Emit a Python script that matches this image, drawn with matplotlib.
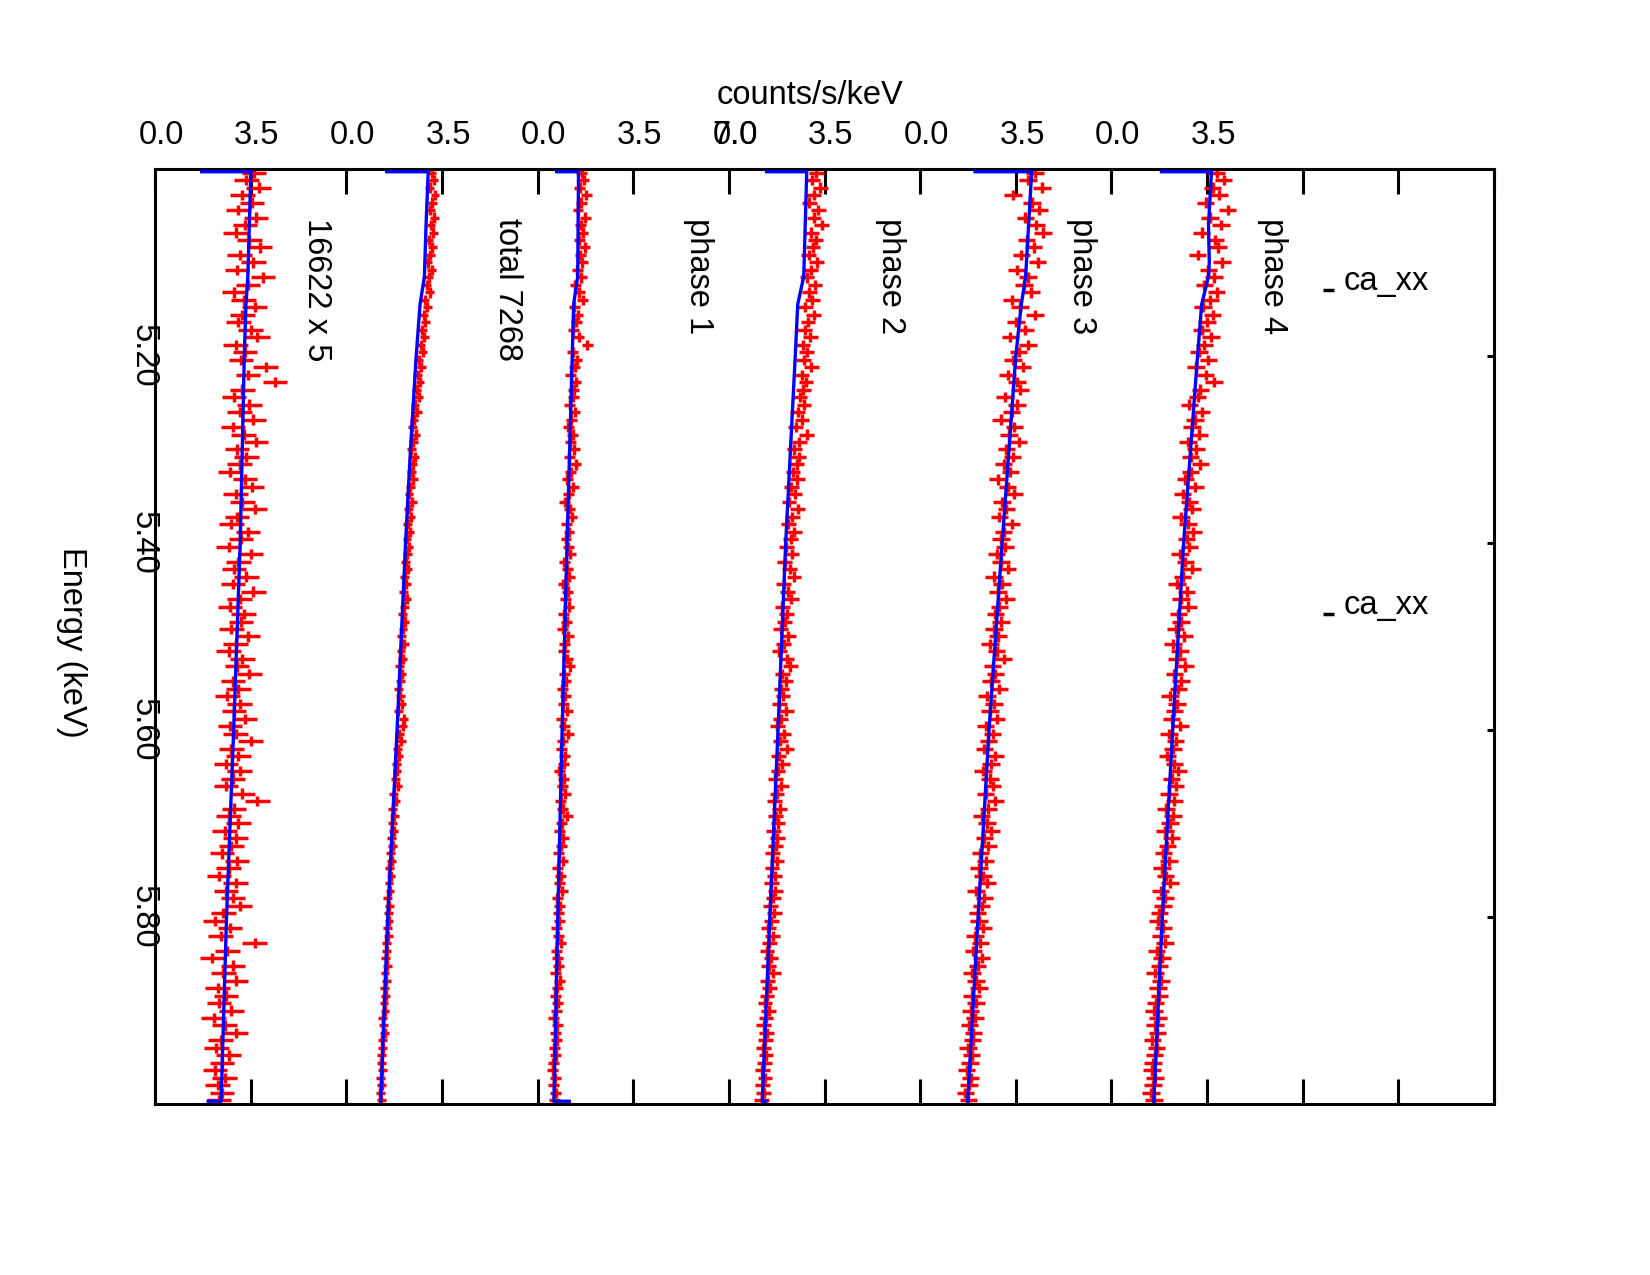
import numpy as np
import matplotlib
matplotlib.use("Agg")
import matplotlib.pyplot as plt
import matplotlib.transforms as mtransforms
from matplotlib.ticker import FixedLocator, FixedFormatter

plt.rcParams['font.family'] = ['Liberation Sans', 'DejaVu Sans']

# spectral channels: 125 bins of 0.008 keV between 5.0 and 6.0 keV
bin_width = 0.008
energy = 5.004 + bin_width * np.arange(125)
energy_halfwidth = 0.0055

panel_names = ["16622 x 5", "total 7268", "phase 1", "phase 2", "phase 3", "phase 4"]
panel_span = 7.0   # each stacked panel covers 0 - 7 counts/s/keV
count_errors = [0.45, 0.16, 0.20, 0.27, 0.32, 0.32]

# counts/s/keV in every bin
counts_p1 = [3.62, 3.35, 3.80, 3.20, 3.55, 3.05, 3.70, 3.30, 2.95, 3.45,
             3.85, 3.10, 3.60, 3.00, 3.95, 3.40, 2.90, 3.25, 3.65, 3.20,
             3.05, 3.50, 3.75, 2.95, 3.30, 3.15, 4.05, 3.40, 4.40, 3.20,
             2.90, 3.45, 3.10, 3.60, 2.85, 3.25, 3.70, 3.00, 3.35, 3.10,
             2.75, 3.30, 3.55, 2.95, 3.20, 3.65, 3.00, 2.80, 3.40, 3.15,
             2.70, 3.50, 3.05, 2.90, 3.35, 2.85, 3.60, 3.10, 2.75, 3.25,
             3.15, 2.80, 3.40, 2.95, 2.70, 3.20, 3.00, 3.45, 2.85, 3.05,
             2.65, 3.10, 2.90, 3.30, 2.75, 2.95, 3.50, 2.80, 3.05, 2.60,
             3.10, 2.85, 2.60, 3.20, 3.75, 2.90, 2.70, 3.05, 2.55, 2.95,
             2.80, 2.45, 3.00, 2.70, 2.35, 2.95, 2.60, 2.85, 3.10, 2.50,
             2.20, 2.75, 2.40, 3.65, 2.65, 2.10, 2.85, 2.50, 2.95, 2.30,
             2.60, 2.35, 2.80, 2.15, 2.55, 2.95, 2.40, 2.25, 2.70, 2.45,
             2.20, 2.55, 2.30, 2.45, 2.35]
counts_p2 = [3.12, 3.20, 3.05, 3.25, 3.15, 3.08, 3.22, 3.10, 3.18, 3.02,
             3.15, 3.08, 2.98, 3.12, 3.02, 2.95, 3.05, 2.88, 2.96, 2.84,
             2.90, 2.78, 2.85, 2.72, 2.80, 2.66, 2.75, 2.62, 2.70, 2.58,
             2.65, 2.52, 2.60, 2.48, 2.42, 2.55, 2.46, 2.38, 2.50, 2.44,
             2.40, 2.46, 2.35, 2.30, 2.42, 2.28, 2.36, 2.25, 2.32, 2.22,
             2.30, 2.24, 2.18, 2.26, 2.14, 2.20, 2.10, 2.22, 2.12, 2.06,
             2.15, 2.08, 2.02, 2.12, 2.00, 2.06, 1.96, 2.04, 1.98, 1.92,
             1.98, 2.04, 1.90, 2.10, 2.06, 1.94, 2.02, 1.88, 1.92, 1.84,
             1.86, 1.80, 1.88, 1.74, 1.82, 1.70, 1.76, 1.68, 1.74, 1.66,
             1.70, 1.62, 1.66, 1.58, 1.64, 1.56, 1.60, 1.52, 1.58, 1.54,
             1.56, 1.50, 1.54, 1.46, 1.48, 1.44, 1.50, 1.42, 1.46, 1.40,
             1.44, 1.38, 1.42, 1.34, 1.36, 1.40, 1.32, 1.34, 1.30, 1.28,
             1.32, 1.26, 1.30, 1.24, 1.28]
counts_p3 = [1.62, 1.70, 1.55, 1.78, 1.60, 1.48, 1.74, 1.58, 1.66, 1.52,
             1.72, 1.56, 1.64, 1.45, 1.60, 1.38, 1.52, 1.66, 1.35, 1.48,
             1.42, 1.30, 1.50, 1.82, 1.28, 1.44, 1.36, 1.22, 1.40, 1.32,
             1.30, 1.18, 1.36, 1.24, 1.12, 1.28, 1.20, 1.34, 1.16, 1.40,
             1.22, 1.08, 1.30, 1.14, 1.00, 1.18, 1.26, 1.06, 1.15, 1.04,
             1.12, 1.20, 0.98, 1.08, 1.16, 0.94, 1.10, 1.02, 1.14, 0.96,
             1.06, 0.92, 1.12, 1.00, 0.95, 1.08, 1.18, 0.98, 1.04, 0.90,
             1.02, 0.94, 1.08, 0.88, 0.98, 1.12, 0.92, 0.86, 1.00, 0.95,
             0.80, 0.96, 0.90, 1.02, 0.84, 0.93, 1.08, 0.88, 0.82, 0.94,
             0.86, 0.78, 0.92, 0.74, 0.84, 0.80, 0.90, 0.72, 0.82, 0.76,
             0.80, 0.70, 0.76, 0.84, 0.68, 0.74, 0.78, 0.66, 0.82, 0.72,
             0.64, 0.74, 0.68, 0.60, 0.72, 0.66, 0.70, 0.62, 0.67, 0.58,
             0.56, 0.64, 0.60, 0.66, 0.62]
counts_p4 = [3.20, 3.05, 3.35, 3.10, 2.95, 3.28, 3.12, 3.40, 3.02, 3.18,
             3.08, 2.92, 3.22, 3.00, 2.86, 3.15, 2.95, 3.05, 2.80, 3.10,
             2.90, 2.78, 2.98, 2.70, 2.85, 2.74, 3.02, 2.66, 2.82, 2.72,
             2.60, 2.75, 2.52, 2.68, 2.45, 2.85, 2.58, 2.40, 2.55, 2.48,
             2.35, 2.50, 2.28, 2.42, 2.20, 2.52, 2.32, 2.18, 2.40, 2.26,
             2.10, 2.30, 2.05, 2.22, 2.38, 2.00, 2.15, 2.28, 1.96, 2.12,
             2.05, 1.90, 2.18, 2.00, 1.85, 2.12, 2.25, 1.95, 2.08, 1.92,
             1.98, 1.84, 2.10, 1.90, 1.78, 2.02, 1.88, 2.12, 1.82, 1.95,
             1.80, 1.70, 1.92, 1.76, 1.66, 1.86, 1.72, 1.80, 1.64, 1.78,
             1.72, 1.60, 1.76, 1.58, 1.68, 1.55, 1.70, 1.62, 1.52, 1.66,
             1.56, 1.44, 1.60, 1.48, 1.40, 1.54, 1.46, 1.62, 1.42, 1.50,
             1.40, 1.32, 1.46, 1.36, 1.28, 1.38, 1.34, 1.26, 1.36, 1.30,
             1.22, 1.32, 1.24, 1.28, 1.20]
counts_p5 = [4.20, 3.95, 4.45, 3.40, 4.10, 4.35, 3.85, 4.25, 4.50, 3.90,
             4.15, 3.70, 4.30, 3.55, 3.95, 3.80, 4.05, 3.35, 3.65, 4.20,
             3.50, 3.85, 3.30, 3.95, 3.60, 3.40, 3.75, 3.20, 3.55, 3.65,
             3.10, 3.55, 3.35, 2.95, 3.45, 3.25, 3.60, 3.15, 3.38, 3.05,
             3.30, 2.85, 3.20, 3.45, 3.00, 3.15, 2.90, 3.35, 3.05, 2.95,
             3.10, 2.80, 2.95, 3.20, 2.70, 3.00, 2.85, 3.15, 2.90, 2.75,
             2.95, 2.70, 2.85, 2.55, 2.80, 3.05, 2.65, 2.75, 2.60, 2.90,
             2.45, 2.70, 2.55, 2.80, 2.40, 2.65, 2.50, 2.35, 2.75, 2.60,
             2.30, 2.55, 2.65, 2.40, 2.75, 2.50, 2.25, 2.45, 2.60, 2.35,
             2.50, 2.20, 2.40, 2.15, 2.30, 2.45, 2.05, 2.35, 2.25, 2.10,
             2.15, 2.30, 2.00, 2.20, 1.95, 2.25, 2.10, 1.90, 2.05, 2.15,
             1.90, 2.05, 1.85, 2.00, 1.80, 1.95, 1.92, 1.75, 1.88, 1.82,
             1.70, 1.85, 1.78, 1.65, 1.76]
counts_p6 = [3.85, 4.10, 3.70, 3.95, 3.45, 4.25, 3.60, 4.00, 3.30, 3.80,
             3.90, 3.15, 4.05, 3.55, 3.75, 3.40, 3.85, 3.60, 3.35, 3.70,
             3.50, 3.30, 3.65, 3.40, 3.20, 3.55, 3.10, 3.45, 3.75, 3.25,
             3.15, 2.85, 3.30, 3.05, 2.95, 3.20, 2.80, 3.10, 2.90, 3.25,
             2.90, 2.70, 3.05, 2.60, 2.85, 2.95, 2.55, 2.80, 3.00, 2.75,
             2.85, 2.50, 2.70, 2.95, 2.60, 2.40, 2.75, 2.55, 2.80, 2.45,
             2.55, 2.35, 2.65, 2.25, 2.50, 2.40, 2.70, 2.30, 2.55, 2.45,
             2.15, 2.40, 2.30, 2.20, 2.50, 2.10, 2.35, 2.25, 2.05, 2.30,
             2.45, 2.20, 2.35, 2.10, 2.30, 2.00, 2.25, 2.15, 1.95, 2.20,
             2.05, 1.90, 2.10, 1.85, 1.98, 2.15, 1.80, 1.95, 1.88, 1.75,
             1.70, 1.90, 1.80, 1.95, 1.65, 1.85, 1.75, 1.60, 1.82, 1.70,
             1.75, 1.62, 1.55, 1.70, 1.60, 1.68, 1.50, 1.65, 1.58, 1.52,
             1.48, 1.60, 1.52, 1.45, 1.55]
panel_counts = [counts_p1, counts_p2, counts_p3, counts_p4, counts_p5, counts_p6]

# folded model curves (energy, counts/s/keV)
model_e_p1 = [5.003, 5.003, 5.115, 5.145, 5.2, 5.4, 5.6, 5.8, 5.997, 5.997]
model_v_p1 = [1.71, 3.51, 3.40, 3.33, 3.27, 3.12, 2.88, 2.62, 2.42, 1.95]
model_e_p2 = [5.003, 5.003, 5.06, 5.115, 5.145, 5.2, 5.3, 5.4, 5.6, 5.8, 5.997]
model_v_p2 = [1.48, 3.00, 2.92, 2.86, 2.70, 2.56, 2.35, 2.17, 1.86, 1.52, 1.26]
model_e_p3 = [5.003, 5.003, 5.115, 5.145, 5.2, 5.4, 5.6, 5.8, 5.997, 5.997]
model_v_p3 = [0.70, 1.50, 1.47, 1.32, 1.27, 1.08, 0.90, 0.74, 0.60, 1.16]
model_e_p4 = [5.003, 5.003, 5.115, 5.145, 5.2, 5.4, 5.6, 5.8, 5.997, 5.997]
model_v_p4 = [1.38, 2.85, 2.74, 2.52, 2.43, 2.08, 1.80, 1.50, 1.22, 1.35]
model_e_p5 = [5.003, 5.003, 5.115, 5.145, 5.2, 5.4, 5.6, 5.8, 5.997]
model_v_p5 = [2.01, 4.08, 3.86, 3.70, 3.50, 3.00, 2.52, 2.12, 1.74]
model_e_p6 = [5.003, 5.003, 5.06, 5.10, 5.115, 5.145, 5.2, 5.4, 5.6, 5.8, 5.997]
model_v_p6 = [1.83, 3.66, 3.55, 3.58, 3.55, 3.30, 3.15, 2.64, 2.24, 1.86, 1.55]
model_energy = [model_e_p1, model_e_p2, model_e_p3, model_e_p4, model_e_p5, model_e_p6]
model_values = [model_v_p1, model_v_p2, model_v_p3, model_v_p4, model_v_p5, model_v_p6]

count_ticks = np.arange(0, 49.01, 3.5)
count_tick_labels = ["0.0", "3.5", "0.0", "3.5", "0.0", "3.5", "0.0",
                     "3.5", "0.0", "3.5", "0.0", "3.5", "", "", ""]
energy_ticks = [5.2, 5.4, 5.6, 5.8]
line_ids = ["ca_xx", "ca_xx"]
line_energies = [5.130, 5.476]

fig = plt.figure(figsize=(16.5, 12.75), dpi=100)
ax = fig.add_axes([0.0939, 0.1341, 0.8116, 0.7334])

for i in range(len(panel_names)):
    off = panel_span * i
    ax.errorbar(np.array(panel_counts[i]) + off, energy,
                xerr=count_errors[i], yerr=energy_halfwidth,
                fmt='none', ecolor='#ff0000', elinewidth=2.5, capsize=0, zorder=2)
    ax.plot(np.array(model_values[i]) + off, model_energy[i],
            color='#0000ff', lw=2.4, zorder=3)
    ax.text(off + 5.9, 5.052, panel_names[i], rotation=270, rotation_mode='anchor',
            ha='left', va='center', fontsize=23.5)

for name, e in zip(line_ids, line_energies):
    ax.plot([42.74, 43.14], [e, e], color='black', lw=2.5, solid_capstyle='butt')
    ax.text(43.5, e, name, ha='left', va='baseline', fontsize=23.5)

ax.set_xlim(0, 49)
ax.set_ylim(6.0, 5.0)

ax.xaxis.set_major_locator(FixedLocator(count_ticks))
ax.xaxis.set_major_formatter(FixedFormatter(count_tick_labels))
# the third panel's "7.0" lands on top of the next panel's "0.0"
ax.xaxis.remove_overlapping_locs = False
ax.xaxis.set_minor_locator(FixedLocator([21.0]))
ax.xaxis.set_minor_formatter(FixedFormatter(["7.0"]))
ax.tick_params(axis='x', which='major', direction='in', top=True, bottom=True,
               labeltop=True, labelbottom=False, length=18, width=2.2,
               pad=13, labelsize=23.5)
ax.tick_params(axis='x', which='minor', direction='in', top=True, bottom=False,
               labeltop=True, labelbottom=False, length=0, pad=13, labelsize=23.5)

# tick labels sit a few pixels right of their ticks in the original
shift = mtransforms.ScaledTranslation(6.3 / 100, 0, fig.dpi_scale_trans)
fig.canvas.draw()
for lab in ax.xaxis.get_ticklabels(which='both'):
    lab.set_transform(lab.get_transform() + shift)

ax.set_yticks(energy_ticks)
ax.tick_params(axis='y', which='major', direction='in', left=False, right=True,
               labelleft=False, length=5, width=2.2)
trans = mtransforms.blended_transform_factory(ax.transAxes, ax.transData)
for e in energy_ticks:
    ax.text(-0.0085, e, f"{e:.2f}", transform=trans, rotation=270,
            ha='center', va='center', fontsize=23.5)

for sp in ax.spines.values():
    sp.set_linewidth(2.2)

fig.text(71.5 / 1650, 1 - 642 / 1275, "Energy (keV)", rotation=270,
         ha='center', va='center', fontsize=23.5)
fig.text(810 / 1650, 1 - 95 / 1275, "counts/s/keV", ha='center', va='center',
         fontsize=23.5)

fig.savefig("out.png", dpi=100)
